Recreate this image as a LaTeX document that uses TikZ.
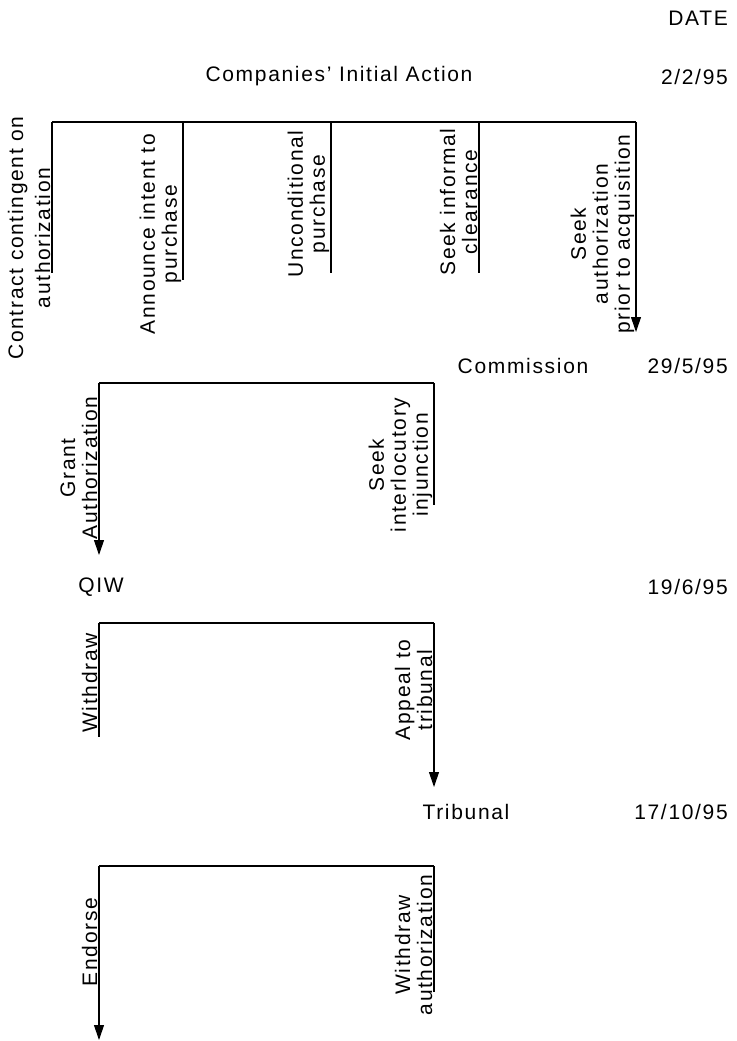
\documentclass[tikz,border=0pt]{standalone}
\usepackage{fontspec}
\setmainfont[LetterSpace=8]{Liberation Sans}
\usetikzlibrary{arrows.meta}

\tikzset{
  actor/.style={font=\fontsize{21}{24}\selectfont, inner sep=0pt},
  when/.style={actor, anchor=east},
  choice/.style={rotate=90, anchor=south, align=center, inner sep=1.5pt,
                 font=\fontsize{21}{22}\selectfont},
  branch/.style={line width=1.1pt},
  move/.style={branch, -{Triangle[length=15pt,width=10pt]}},
}

\begin{document}
\begin{tikzpicture}[x=1pt,y=-1pt]
    \useasboundingbox (0,0) rectangle (736,1041);

    % Fechas
    \node[when] (date) at (728,18) {DATE};
    \node[when] (d1) at (728,77) {2/2/95};
    \node[when] (d2) at (728,366) {29/5/95};
    \node[when] (d3) at (728,587) {19/6/95};
    \node[when] (d4) at (728,812) {17/10/95};

    % Actores
    \node[actor] (firms) at (339,76) {Companies' Initial Action};
    \node[actor] (comm) at (523,366) {Commission};
    \node[actor] (qiw) at (101,587) {QIW};
    \node[actor] (trib) at (466,812) {Tribunal};

    % Companias
    \coordinate (t1a) at (52,122);
    \coordinate (t1b) at (636,122);
    \draw[branch] (t1a) -- (t1b);
    \foreach \x/\y [count=\i] in {52/273, 183/280, 331/273, 479/273}
        \draw[branch] (\x,122) -- (\x,\y) coordinate (e\i);
    \draw[move] (t1b) -- (636,332) coordinate (e5);
    \node[choice, font=\fontsize{21}{27}\selectfont] (c1) at (52,238) {Contract contingent on\\authorization};
    \node[choice] (c2) at (183,234) {Announce intent to\\purchase};
    \node[choice] (c3) at (331,204) {Unconditional\\purchase};
    \node[choice] (c4) at (479,202) {Seek informal\\clearance};
    \node[choice] (c5) at (636,234) {Seek\\authorization\\prior to acquisition};

    % Comision
    \coordinate (t2a) at (99,383);
    \coordinate (t2b) at (434,383);
    \draw[branch] (t2a) -- (t2b);
    \draw[move] (t2a) -- (99,555) coordinate (f1);
    \draw[branch] (t2b) -- (434,505) coordinate (f2);
    \node[choice] (g1) at (99,468) {Grant\\Authorization};
    \node[choice] (g2) at (434,465) {Seek\\interlocutory\\injunction};

    % QIW
    \coordinate (t3a) at (99,623);
    \coordinate (t3b) at (434,623);
    \draw[branch] (t3a) -- (t3b);
    \draw[branch] (t3a) -- (99,737) coordinate (h1);
    \draw[move] (t3b) -- (434,787) coordinate (h2);
    \node[choice] (q1) at (99,683) {Withdraw};
    \node[choice] (q2) at (434,690) {Appeal to\\tribunal};

    % Tribunal
    \coordinate (t4a) at (99,866);
    \coordinate (t4b) at (434,866);
    \draw[branch] (t4a) -- (t4b);
    \draw[move] (t4a) -- (99,1040) coordinate (k1);
    \draw[branch] (t4b) -- (434,992) coordinate (k2);
    \node[choice] (r1) at (99,942) {Endorse};
    \node[choice] (r2) at (434,945) {Withdraw\\authorization};
\end{tikzpicture}
\end{document}
